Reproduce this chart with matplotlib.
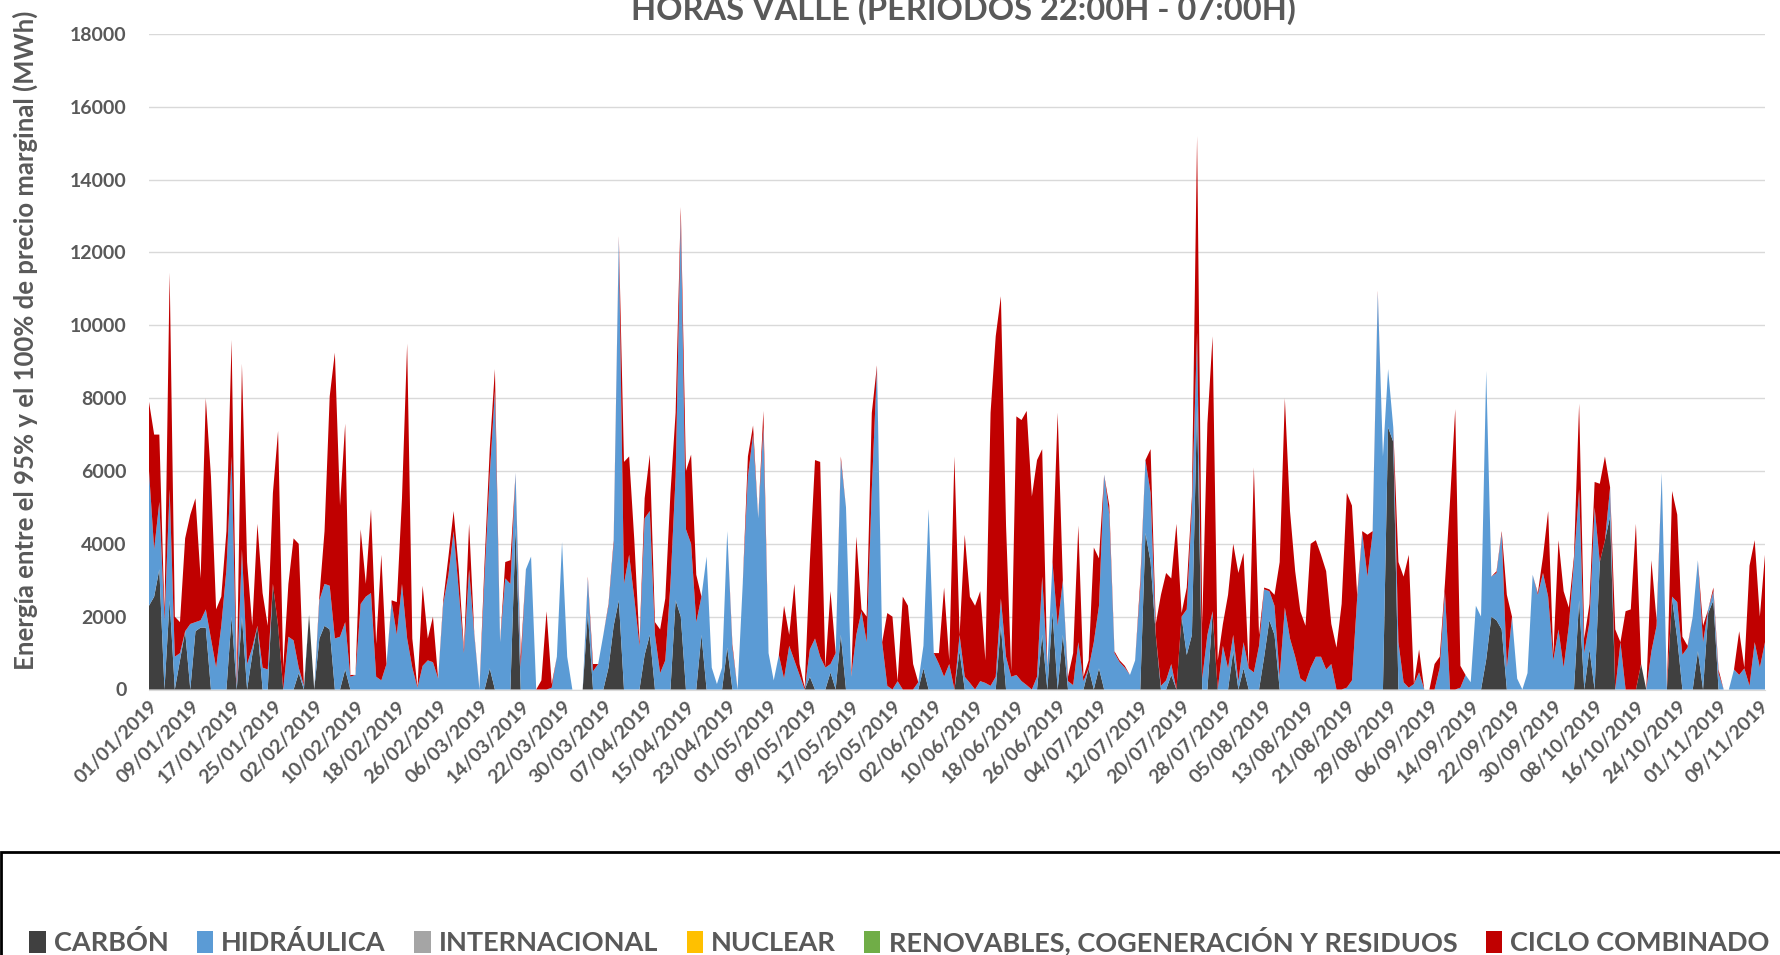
import matplotlib
matplotlib.use("Agg")
import matplotlib.pyplot as plt
from matplotlib.patches import Patch, Rectangle
import pandas as pd

plt.rcParams['font.family'] = ['Lato', 'DejaVu Sans']
plt.rcParams['font.weight'] = 'bold'

# daily values (MWh), 01/01/2019 - 10/11/2019
start_date = "2019-01-01"

carbon = [
    2300, 2550, 3300, 0, 2450, 0, 800, 1600, 0, 1600,
    1700, 1700, 0, 0, 0, 0, 2000, 0, 2000, 0,
    950, 1750, 0, 0, 2900, 1750, 0, 0, 0, 450,
    0, 2050, 0, 1400, 1750, 1650, 0, 0, 550, 0,
    0, 0, 0, 0, 0, 0, 0, 0, 0, 0,
    0, 0, 0, 0, 0, 0, 0, 0, 0, 0,
    0, 0, 0, 0, 0, 0, 580, 0, 0, 0,
    0, 4450, 0, 0, 0, 0, 0, 0, 0, 0,
    0, 0, 0, 0, 0, 2100, 0, 0, 0, 600,
    1750, 2450, 0, 0, 0, 0, 950, 1500, 0, 0,
    0, 0, 2450, 2000, 0, 0, 0, 1500, 0, 0,
    0, 0, 1150, 0, 0, 0, 0, 0, 0, 0,
    0, 0, 0, 0, 0, 0, 0, 0, 350, 0,
    0, 0, 470, 0, 1500, 0, 0, 0, 0, 0,
    0, 0, 0, 0, 0, 0, 0, 0, 0, 0,
    580, 0, 0, 0, 0, 0, 0, 1050, 0, 0,
    0, 0, 0, 0, 0, 1750, 0, 0, 0, 0,
    0, 0, 0, 1500, 0, 2100, 0, 1500, 0, 0,
    0, 0, 580, 0, 580, 0, 0, 0, 0, 0,
    0, 0, 0, 4300, 3500, 1500, 0, 0, 400, 0,
    2000, 950, 1500, 7800, 0, 0, 2100, 0, 0, 0,
    1050, 0, 580, 0, 0, 0, 900, 1900, 1500, 0,
    0, 0, 0, 0, 0, 0, 0, 0, 0, 0,
    0, 0, 0, 0, 0, 0, 0, 0, 0, 0,
    7200, 6800, 0, 0, 0, 0, 0, 0, 0, 0,
    0, 0, 0, 0, 0, 0, 0, 0, 0, 820,
    2000, 1900, 1650, 0, 0, 0, 0, 0, 0, 0,
    0, 0, 0, 0, 0, 0, 0, 2450, 0, 1100,
    0, 3500, 4100, 4750, 0, 0, 0, 0, 0, 700,
    0, 0, 0, 0, 0, 2500, 1400, 0, 0, 0,
    1050, 0, 2100, 2450, 0, 0, 0, 0, 0, 0,
    0, 0, 0, 0,
]

hidraulica = [
    3700, 1300, 1850, 1900, 3050, 900, 200, 0, 1800, 250,
    200, 500, 1400, 600, 1750, 3300, 4400, 100, 1850, 700,
    200, 0, 600, 550, 0, 0, 0, 1450, 1350, 150,
    100, 0, 0, 1050, 1150, 1200, 1400, 1450, 1300, 350,
    400, 2350, 2550, 2650, 350, 250, 700, 2400, 1500, 2900,
    1400, 600, 50, 650, 800, 750, 300, 2350, 3150, 4350,
    2700, 1000, 3300, 1500, 0, 3100, 5320, 8200, 1300, 3050,
    2900, 1500, 600, 3300, 3650, 0, 0, 0, 50, 900,
    4050, 900, 0, 0, 0, 950, 500, 700, 1500, 1700,
    2250, 9950, 2900, 3700, 2500, 1200, 3750, 3400, 1500, 450,
    800, 2900, 3400, 11000, 4400, 4000, 1850, 1050, 3650, 600,
    150, 600, 3200, 1150, 0, 2900, 5850, 7000, 4700, 7200,
    1000, 250, 950, 300, 1200, 800, 400, 0, 750, 1400,
    900, 600, 230, 1000, 4800, 5000, 350, 1500, 2150, 1300,
    5500, 8850, 1300, 100, 0, 230, 0, 0, 0, 200,
    620, 4950, 1000, 700, 350, 700, 0, 450, 350, 180,
    0, 230, 180, 100, 350, 750, 900, 350, 400, 230,
    120, 0, 350, 1600, 600, 1400, 1750, 1500, 230, 120,
    1300, 230, 0, 1300, 1720, 5900, 4800, 1000, 750, 600,
    400, 800, 2800, 2000, 1900, 0, 100, 250, 300, 0,
    0, 1250, 3500, 2000, 300, 1500, 50, 0, 1200, 580,
    450, 230, 720, 580, 470, 1200, 1850, 800, 800, 350,
    2250, 1400, 900, 300, 200, 600, 900, 900, 550, 700,
    0, 0, 50, 250, 2500, 4300, 3100, 4300, 10900, 6400,
    1600, 400, 1300, 200, 50, 150, 470, 0, 0, 0,
    600, 2700, 0, 0, 50, 400, 200, 2300, 2000, 7930,
    1100, 1300, 2650, 600, 2000, 300, 0, 450, 3150, 2600,
    3200, 2550, 800, 1650, 600, 1750, 3500, 3050, 1000, 750,
    5000, 0, 0, 800, 0, 1300, 0, 0, 0, 0,
    0, 1050, 1750, 5950, 0, 50, 1000, 950, 1150, 2000,
    2500, 1300, 100, 250, 450, 0, 0, 550, 400, 580,
    100, 1300, 600, 1300,
]

ciclo_combinado = [
    1900, 3150, 1850, 200, 5950, 1100, 850, 2550, 3000, 3400,
    1150, 5800, 4450, 1600, 800, 1050, 3200, 150, 5100, 2800,
    600, 2800, 2050, 1200, 2500, 5350, 600, 1450, 2800, 3400,
    0, 0, 0, 100, 1450, 5200, 7850, 3600, 5450, 50,
    0, 2050, 350, 2300, 900, 3450, 0, 50, 900, 2350,
    8100, 800, 0, 2200, 600, 1250, 0, 100, 500, 550,
    600, 100, 1250, 50, 0, 400, 700, 600, 0, 450,
    650, 0, 300, 0, 0, 0, 250, 2150, 100, 0,
    0, 0, 0, 0, 0, 50, 200, 0, 0, 50,
    100, 50, 3350, 2700, 1600, 100, 550, 1550, 350, 1200,
    1700, 2500, 1750, 250, 1600, 2450, 1300, 0, 0, 0,
    0, 0, 0, 100, 0, 0, 550, 250, 0, 450,
    0, 0, 0, 2000, 300, 2100, 300, 50, 2400, 4900,
    5350, 0, 2000, 0, 100, 0, 0, 2700, 50, 700,
    2100, 50, 0, 2000, 2000, 0, 2550, 2300, 700, 0,
    0, 0, 0, 300, 2450, 100, 6400, 0, 3900, 2370,
    2300, 2470, 620, 7500, 9350, 8300, 3600, 150, 7100, 7170,
    7530, 5300, 5950, 3500, 0, 0, 5850, 0, 120, 880,
    3200, 120, 220, 2600, 1300, 0, 250, 50, 50, 50,
    0, 0, 200, 0, 1200, 300, 2500, 2950, 2350, 4550,
    100, 600, 300, 5400, 1500, 5800, 7550, 800, 600, 2020,
    2500, 2970, 2450, 20, 5630, 300, 50, 50, 300, 3150,
    5750, 3500, 2350, 1850, 1550, 3400, 3200, 2800, 2700, 1100,
    1150, 2350, 5350, 4800, 100, 50, 1150, 50, 50, 0,
    0, 0, 2200, 2900, 3650, 0, 630, 0, 0, 700,
    300, 200, 5200, 7700, 600, 0, 0, 0, 0, 0,
    0, 50, 50, 2000, 0, 0, 0, 0, 0, 50,
    450, 2350, 150, 2450, 2100, 500, 150, 2350, 400, 500,
    700, 2150, 2300, 0, 1650, 0, 2150, 2200, 4550, 0,
    0, 2500, 150, 0, 0, 2900, 2400, 500, 50, 0,
    0, 450, 0, 100, 100, 0, 0, 0, 1200, 20,
    3300, 2800, 1400, 2400,
]

series_names = ["CARBÓN", "HIDRÁULICA", "INTERNACIONAL", "NUCLEAR",
                "RENOVABLES, COGENERACIÓN Y RESIDUOS", "CICLO COMBINADO"]
series_colors = ["#404040", "#5B9BD5", "#A5A5A5", "#FFC000", "#70AD47", "#C00000"]

dates = pd.date_range(start_date, periods=len(carbon), freq="D")
text_color = "#595959"

fig = plt.figure(figsize=(17.81, 9.55), dpi=100)
ax = fig.add_axes([149 / 1781, 1 - 689.5 / 955, (1765 - 149) / 1781, (689.5 - 34) / 955])

# stacked areas (internacional, nuclear y renovables have no energy here)
ax.stackplot(dates, carbon, hidraulica, ciclo_combinado,
             colors=[series_colors[0], series_colors[1], series_colors[5]],
             linewidth=0)

ax.set_ylim(0, 18000)
ax.set_yticks(range(0, 18001, 2000))
ax.set_xlim(dates[0], dates[-1])
ax.set_xticks(dates[::8])
ax.set_xticklabels([d.strftime("%d/%m/%Y") for d in dates[::8]],
                   rotation=45, ha="right", va="top", rotation_mode="anchor")

ax.grid(axis="y", color="#D9D9D9", linewidth=1)
ax.set_axisbelow(True)
for side in ["top", "right", "left"]:
    ax.spines[side].set_visible(False)
ax.spines["bottom"].set_color("#D9D9D9")
ax.tick_params(axis="y", length=0, pad=16, labelsize=14, labelcolor=text_color)
ax.tick_params(axis="x", length=0, pad=6, labelsize=14, labelcolor=text_color)

fig.text(25 / 1781, 1 - 340 / 955,
         "Energía entre el 95% y el 100% de precio marginal (MWh)",
         rotation=90, ha="center", va="center", fontsize=18.5,
         fontweight="bold", color=text_color)

fig.text(963 / 1781, 1 - 20 / 955, "HORAS VALLE (PERIODOS 22:00H - 07:00H)",
         ha="center", va="baseline", fontsize=23.5, fontweight="bold",
         color=text_color)

# legend box at the bottom
fig.add_artist(Rectangle((1 / 1781, -0.05), 1.2, 0.05 + 1 - 852 / 955,
                         transform=fig.transFigure, fill=False,
                         edgecolor="black", linewidth=2))
handles = [Patch(facecolor=c, edgecolor="none") for c in series_colors]
leg = fig.legend(handles, series_names, loc="center", ncol=6,
                 bbox_to_anchor=(0.505, 1 - 941 / 955), frameon=False,
                 handlelength=0.6, handleheight=0.9, handletextpad=0.3,
                 columnspacing=1.05, prop={"size": 19.5, "weight": "bold"})
for t in leg.get_texts():
    t.set_color(text_color)

fig.savefig("out.png", dpi=100)
